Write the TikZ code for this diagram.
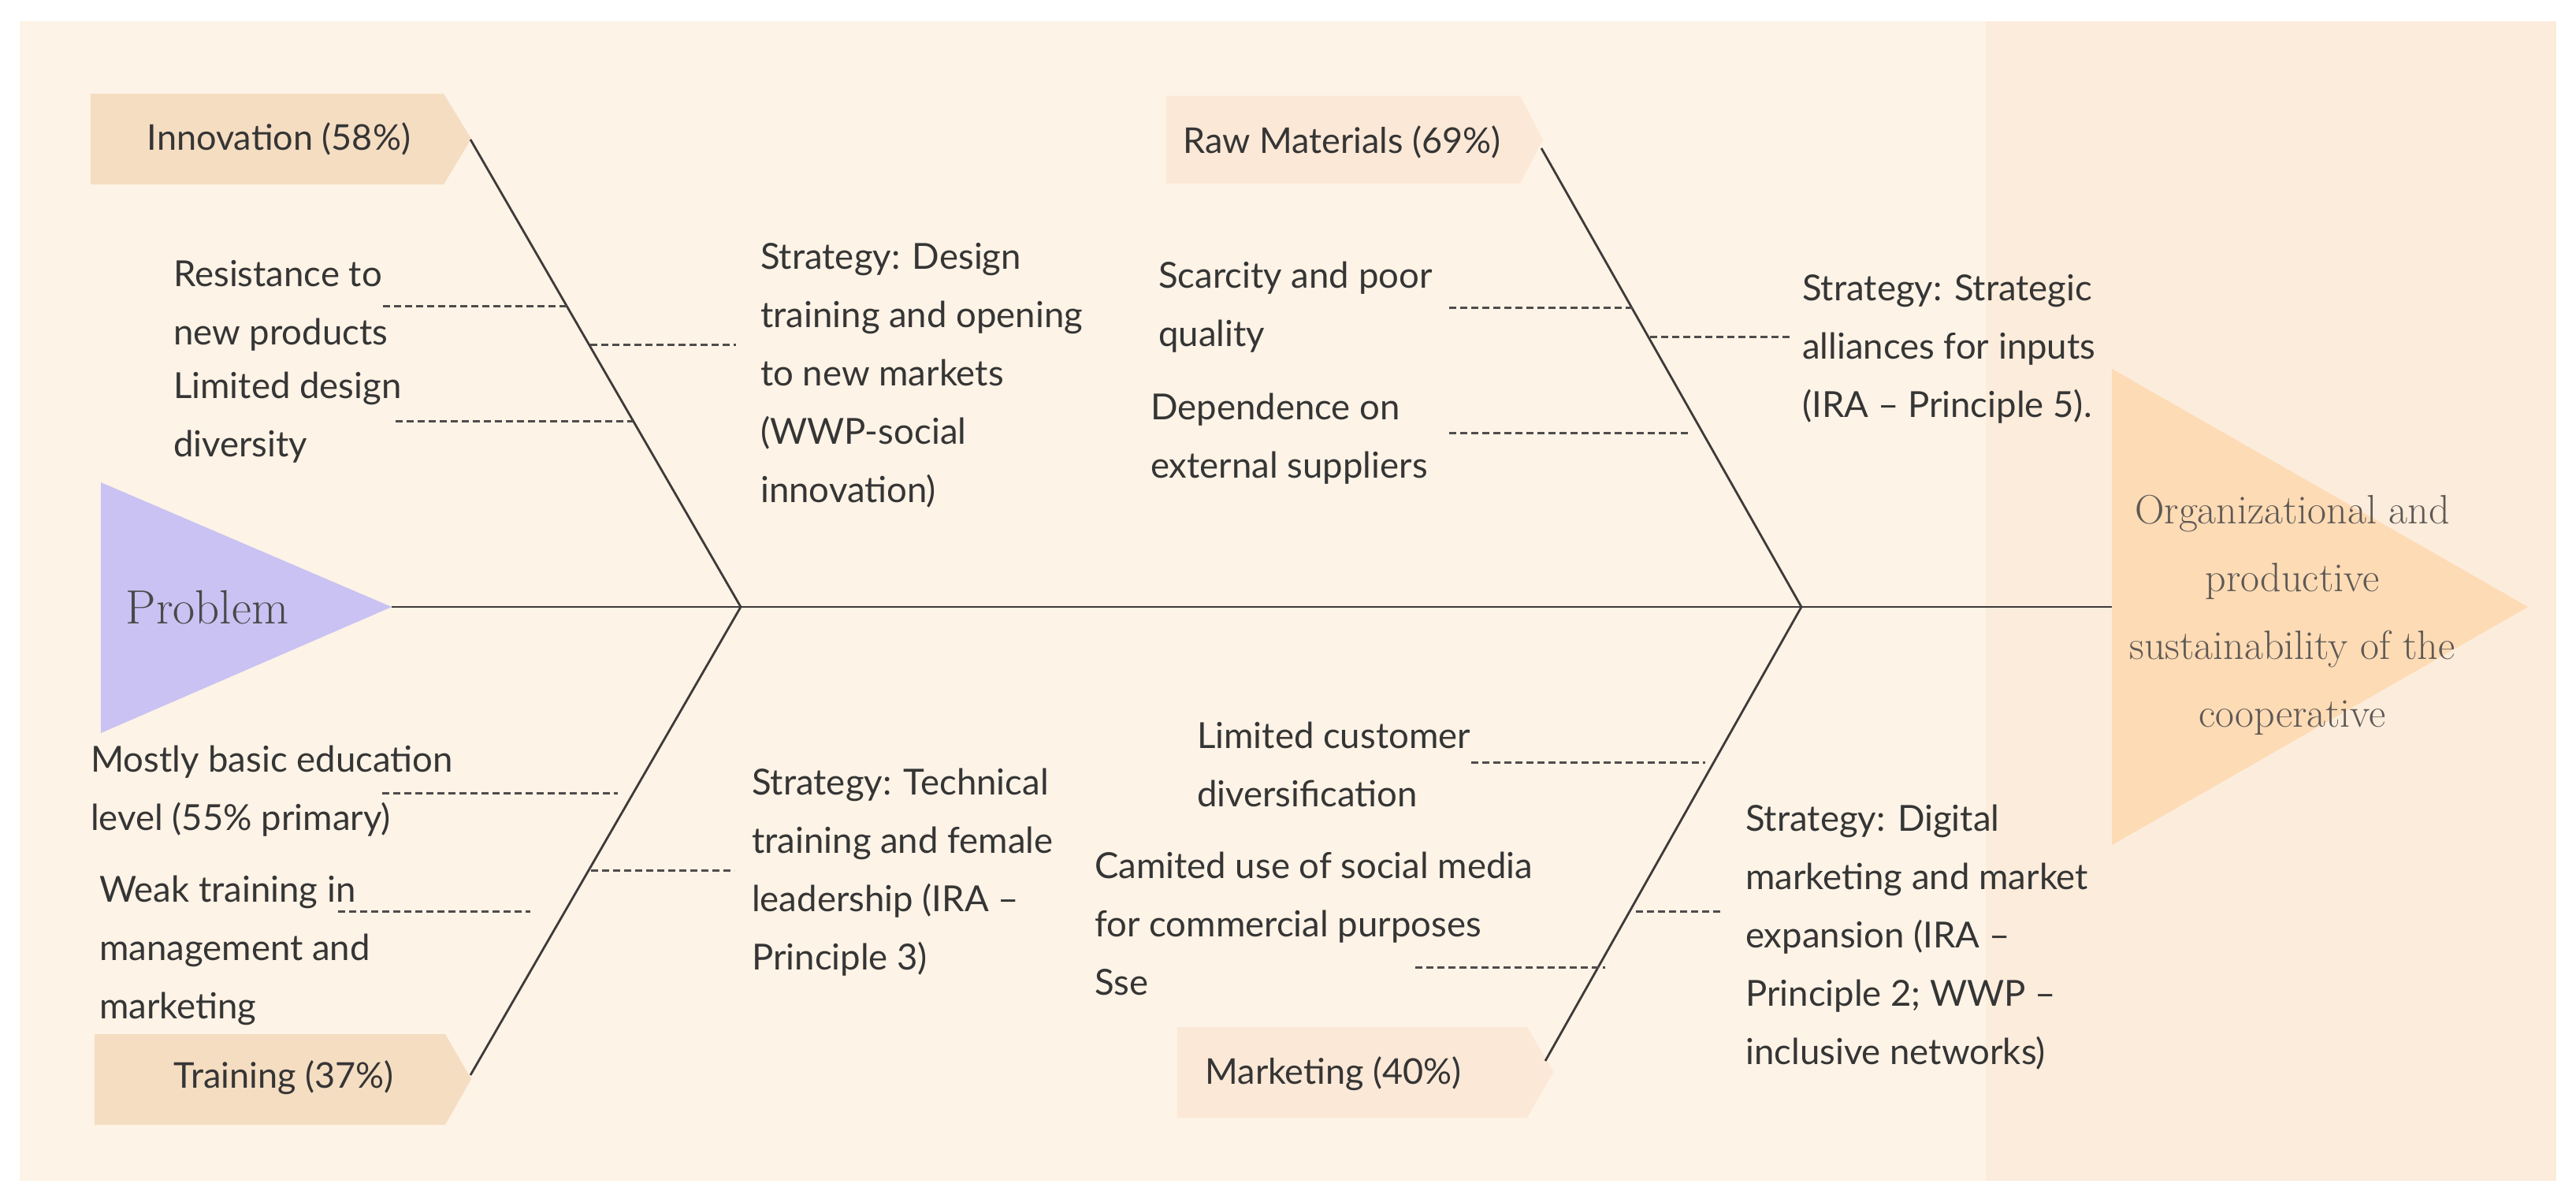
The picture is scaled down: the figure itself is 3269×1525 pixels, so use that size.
\documentclass[tikz,border=0pt]{standalone}
\usepackage{fontspec}
\setsansfont{Lato}
\definecolor{bgcream}{HTML}{FDF3E6}
\definecolor{bgband}{HTML}{FCECDB}
\definecolor{probfill}{HTML}{C9C2F3}
\definecolor{outfill}{HTML}{FDDBB5}
\definecolor{boxdark}{HTML}{F5DDC2}
\definecolor{boxlight}{HTML}{FBE8D6}
\definecolor{lncol}{HTML}{3E3A3A}
\definecolor{dashcol}{HTML}{4F4C4C}
\definecolor{txtcol}{HTML}{353535}
\definecolor{serifcol}{HTML}{5E5955}
\begin{document}
\begin{tikzpicture}[x=1pt,y=-1pt,
  txt/.style={font=\sffamily\fontsize{45.5}{74}\selectfont, text=txtcol, align=left, anchor=west, inner sep=0pt},
  boxtxt/.style={font=\sffamily\fontsize{45}{52}\selectfont, text=txtcol, inner sep=0pt},
  bone/.style={draw=lncol, line width=2.8pt},
  causeline/.style={draw=dashcol, line width=3pt, dash pattern=on 9pt off 5pt}]
\useasboundingbox (0,0) rectangle (3269,1525);
\fill[white] (0,0) rectangle (3269,1525);
\fill[bgcream] (25,27) rectangle (3244,1498);
\fill[bgband] (2520,27) rectangle (3244,1498);

% problem head
\coordinate (pTop) at (128,612);
\coordinate (pBot) at (128,930);
\coordinate (pTip) at (497,770);
\fill[probfill] (pTop) -- (pTip) -- (pBot) -- cycle;
\node[font=\rmfamily\fontsize{61}{61}\selectfont, text=txtcol!90, inner sep=0pt] (problem) at (263,771) {Problem};

% outcome head
\coordinate (oTop) at (2680,468);
\coordinate (oBot) at (2680,1072);
\coordinate (oTip) at (3208,770);
\coordinate (oLeft) at (2680,770);
\fill[outfill] (oTop) -- (oTip) -- (oBot) -- cycle;
\node[font=\rmfamily\fontsize{52}{86}\selectfont, text=serifcol, align=center, inner sep=0pt] (outcome) at (2909,780)
  {Organizational and\\productive\\sustainability of the\\cooperative};

% spine
\coordinate (J1) at (940,770);
\coordinate (J2) at (2286,770);
\draw[bone] (pTip) -- (J1) -- (J2) -- (oLeft);

% category boxes
\fill[boxdark] (115,119) -- (563,119) -- (598,176) -- (563,234) -- (115,234) -- cycle;
\coordinate (innoTip) at (597,177);
\node[boxtxt] (inno) at (354,176) {Innovation (58\%)};

\fill[boxdark] (120,1312) -- (565,1312) -- (598,1369) -- (565,1427) -- (120,1427) -- cycle;
\coordinate (trainTip) at (597,1364);
\node[boxtxt] (train) at (360,1367) {Training (37\%)};

\fill[boxlight] (1480,122) -- (1929,122) -- (1958,177) -- (1929,233) -- (1480,233) -- cycle;
\coordinate (rawTip) at (1956,188);
\node[boxtxt] (raw) at (1703,180) {Raw Materials (69\%)};

\fill[boxlight] (1494,1303) -- (1938,1303) -- (1971,1360) -- (1938,1418) -- (1494,1418) -- cycle;
\coordinate (mktTip) at (1961,1346);
\node[boxtxt] (mkt) at (1692,1362) {Marketing (40\%)};

% bones
\draw[bone] (innoTip) -- (J1);
\draw[bone] (trainTip) -- (J1);
\draw[bone] (rawTip) -- (J2);
\draw[bone] (mktTip) -- (J2);

% cause / strategy dashes
\coordinate (c1a) at (486,388);  \coordinate (c1b) at (719,388);
\coordinate (c2a) at (502,534);  \coordinate (c2b) at (803,534);
\coordinate (s1a) at (749,437);  \coordinate (s1b) at (934,437);
\coordinate (c3a) at (485,1006); \coordinate (c3b) at (784,1006);
\coordinate (c4a) at (429,1156); \coordinate (c4b) at (673,1156);
\coordinate (s2a) at (750,1104); \coordinate (s2b) at (932,1104);
\coordinate (c5a) at (1839,390); \coordinate (c5b) at (2072,390);
\coordinate (c6a) at (1839,549); \coordinate (c6b) at (2142,549);
\coordinate (s3a) at (2094,427); \coordinate (s3b) at (2271,427);
\coordinate (c7a) at (1867,967); \coordinate (c7b) at (2164,967);
\coordinate (c8a) at (1796,1227); \coordinate (c8b) at (2037,1227);
\coordinate (s4a) at (2076,1156); \coordinate (s4b) at (2184,1156);
\foreach \p in {c1,c2,s1,c3,c4,s2,c5,c6,s3,c7,c8,s4}
  \draw[causeline] (\p a) -- (\p b);

% texts
\node[txt] (t1) at (220,388) {Resistance to\\new products};
\node[txt] (t2) at (220,530) {Limited design\\diversity};
\node[txt] (st1) at (965,476) {Strategy: Design\\training and opening\\to new markets\\(WWP-social\\innovation)};
\node[txt] (t3) at (115,1004) {Mostly basic education\\level (55\% primary)};
\node[txt] (t4) at (126,1206) {Weak training in\\management and\\marketing};
\node[txt] (st2) at (954,1107) {Strategy: Technical\\training and female\\leadership (IRA –\\Principle 3)};
\node[txt] (t5) at (1470,390) {Scarcity and poor\\quality};
\node[txt] (t6) at (1460,557) {Dependence on\\external suppliers};
\node[txt] (st3) at (2287,443) {Strategy: Strategic\\alliances for inputs\\(IRA – Principle 5).};
\node[txt] (t7) at (1519,970) {Limited customer\\diversification};
\node[txt] (t8) at (1389,1172) {Camited use of social media\\for commercial purposes\\Sse};
\node[txt] (st4) at (2215,1189) {Strategy: Digital\\marketing and market\\expansion (IRA –\\Principle 2; WWP –\\inclusive networks)};
\end{tikzpicture}
\end{document}
